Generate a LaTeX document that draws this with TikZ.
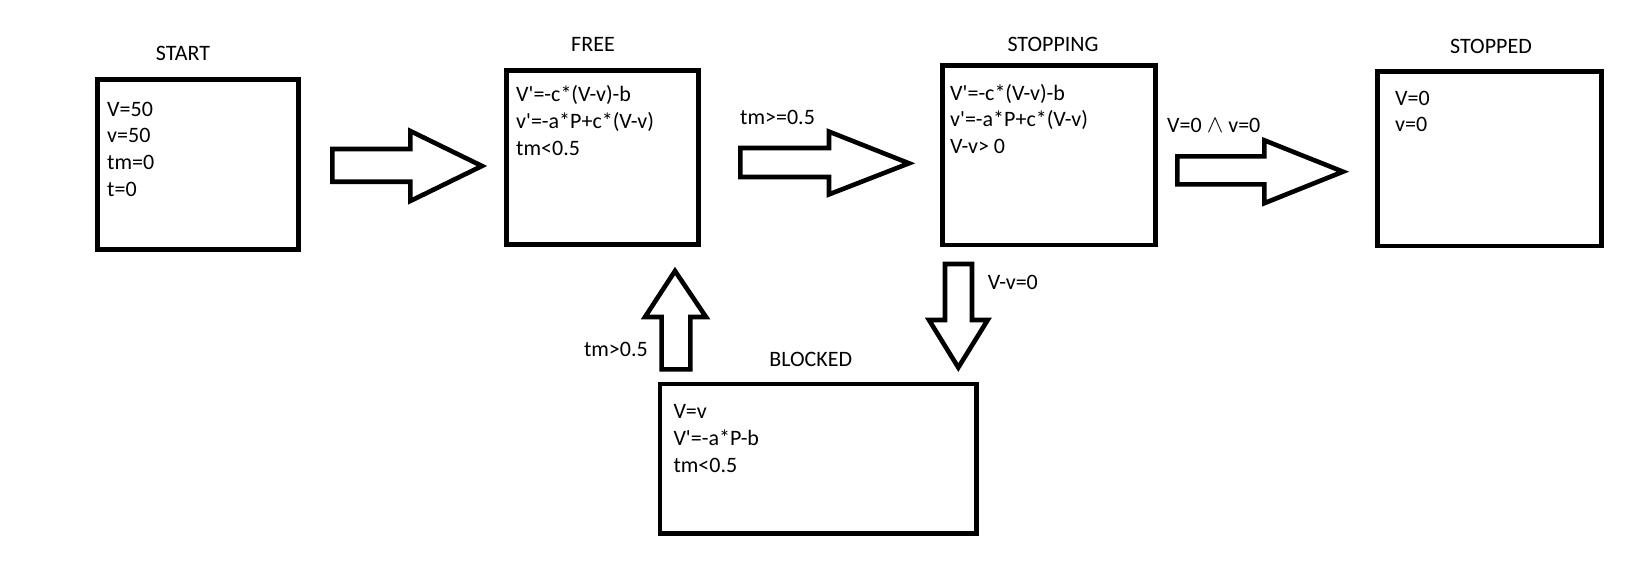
\documentclass[tikz,border=0pt]{standalone}
\usepackage{fontspec}
\setmainfont{Carlito}[Ligatures=TeXOff]
\begin{document}
\begin{tikzpicture}[x=1pt,y=-1pt,
  box/.style={draw, line width=4.7pt, inner sep=0pt},
  blockarrow/.style={draw, line width=4.6pt, line join=miter, fill=white},
  txt/.style={inner sep=0pt, font=\fontsize{22}{26}\selectfont}]
\useasboundingbox[fill=white] (0,0) rectangle (1639,562);

% state boxes
\node[box, minimum width=201pt, minimum height=169.6pt] (start) at (197.8,164.5) {};
\node[box, minimum width=192.4pt, minimum height=173.6pt] (free) at (602.5,157.5) {};
\node[box, minimum width=213.4pt, minimum height=179.3pt] (stopping) at (1049,155.35) {};
\node[box, minimum width=224.4pt, minimum height=174.7pt] (stopped) at (1489.5,158.65) {};
\node[box, minimum width=316.7pt, minimum height=149.7pt] (blocked) at (818.35,458.85) {};

% titles
\node[txt, anchor=base] (tstart) at (183,60) {START};
\node[txt, anchor=base] (tfree) at (593,51.7) {FREE};
\node[txt, anchor=base] (tstopping) at (1053,51.7) {STOPPING};
\node[txt, anchor=base] (tstopped) at (1491,53.3) {STOPPED};
\node[txt, anchor=base] (tblocked) at (810.7,366) {BLOCKED};

% START contents
\node[txt, anchor=base west] (s1) at (107,116) {V=50};
\node[txt, anchor=base west] (s2) at (107,142.7) {v=50};
\node[txt, anchor=base west] (s3) at (107,169.4) {tm=0};
\node[txt, anchor=base west] (s4) at (107,196) {t=0};

% FREE contents
\node[txt, anchor=base west] (f1) at (516,101.7) {V'=-c*(V-v)-b};
\node[txt, anchor=base west] (f2) at (516,128.4) {v'=-a*P+c*(V-v)};
\node[txt, anchor=base west] (f3) at (516,155) {tm<0.5};

% STOPPING contents
\node[txt, anchor=base west] (p1) at (950,100) {V'=-c*(V-v)-b};
\node[txt, anchor=base west] (p2) at (950,126.5) {v'=-a*P+c*(V-v)};
\node[txt, anchor=base west] (p3) at (950,153) {V-v> 0};

% STOPPED contents
\node[txt, anchor=base west] (d1) at (1395,105) {V=0};
\node[txt, anchor=base west] (d2) at (1395,131.7) {v=0};

% BLOCKED contents
\node[txt, anchor=base west] (b1) at (673.3,418.3) {V=v};
\node[txt, anchor=base west] (b2) at (673.3,445.3) {V'=-a*P-b};
\node[txt, anchor=base west] (b3) at (673.3,472.3) {tm<0.5};

% block arrows
\draw[blockarrow] (332.3,149) -- (410.3,149) -- (410.3,131) -- (482,166) -- (410.3,201) -- (410.3,181.7) -- (332.3,181.7) -- cycle;
\draw[blockarrow] (740.3,148) -- (829,148) -- (829,131.6) -- (909,163.3) -- (829,194.4) -- (829,177) -- (740.3,177) -- cycle;
\draw[blockarrow] (1177.3,156.3) -- (1264.3,156.3) -- (1264.3,140.3) -- (1343,171.7) -- (1264.3,203.2) -- (1264.3,184.4) -- (1177.3,184.4) -- cycle;
\draw[blockarrow] (661.6,369.4) -- (661.6,317) -- (645,317) -- (675,271) -- (706,317) -- (690.4,317) -- (690.4,369.4) -- cycle;
\draw[blockarrow] (945,264) -- (972,264) -- (972,320) -- (987.7,320) -- (958.3,367.5) -- (929,320) -- (945,320) -- cycle;

% transition labels
\node[txt, anchor=base west] (l1) at (740,124) {tm>=0.5};
\node[txt, anchor=base west] (l2) at (1167,132.7) {V=0 {\fontsize{25}{26}\selectfont$\wedge$} v=0};
\node[txt, anchor=base east] (l3) at (648,356.7) {tm>0.5};
\node[txt, anchor=base west] (l4) at (987.7,289.3) {V-v=0};
\end{tikzpicture}
\end{document}
